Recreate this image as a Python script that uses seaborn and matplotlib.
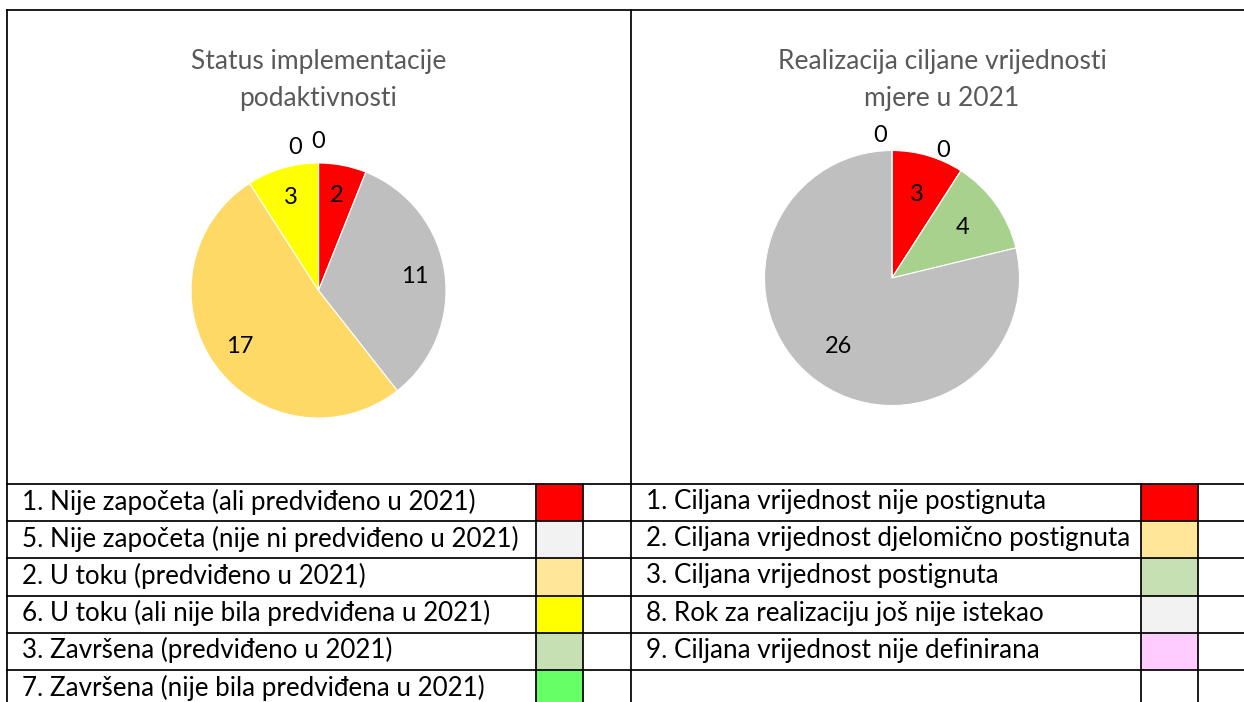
import matplotlib
matplotlib.use("Agg")
import numpy as np
import matplotlib.pyplot as plt
from matplotlib.patches import Rectangle
import seaborn as sns

# --- data ---
status_title = "Status implementacije\npodaktivnosti"
status_labels = ["1. Nije započeta (ali predviđeno u 2021)",
                 "5. Nije započeta (nije ni predviđeno u 2021)",
                 "2. U toku (predviđeno u 2021)",
                 "6. U toku (ali nije bila predviđena u 2021)",
                 "3. Završena (predviđeno u 2021)",
                 "7. Završena (nije bila predviđena u 2021)"]
status_values = [2, 11, 17, 3, 0, 0]
status_slice_colors = ["#FF0000", "#BFBFBF", "#FFD966", "#FFFF00", "#C6E0B4", "#66FF66"]
status_swatch_colors = ["#FF0000", "#F2F2F2", "#FFE699", "#FFFF00", "#C6E0B4", "#66FF66"]

target_title = "Realizacija ciljane vrijednosti\nmjere u 2021"
target_labels = ["1. Ciljana vrijednost nije postignuta",
                 "2. Ciljana vrijednost djelomično postignuta",
                 "3. Ciljana vrijednost postignuta",
                 "8. Rok za realizaciju još nije istekao",
                 "9. Ciljana vrijednost nije definirana"]
target_values = [3, 0, 4, 26, 0]
target_slice_colors = ["#FF0000", "#FFD966", "#A9D18E", "#BFBFBF", "#FFCCFF"]
target_swatch_colors = ["#FF0000", "#FFE699", "#C6E0B4", "#F2F2F2", "#FFCCFF"]

sns.set_theme(style="white")
plt.rcParams['font.family'] = ['Lato', 'DejaVu Sans']

W, H = 1244, 702
fig = plt.figure(figsize=(W / 100, H / 100), dpi=100)

# overlay axes in pixel coordinates for the frame and the legend table
grid = fig.add_axes([0, 0, 1, 1])
grid.set_xlim(0, W)
grid.set_ylim(H, 0)
grid.axis("off")

lw = 1.25
left, mid, top = 7, 631, 10
table_top, row_h = 484, 37.2
cols_left = (536, 583)
cols_right = (1141, 1198)


def draw_pie(cx, cy, r, values, colors, title, title_x, label_dist):
    size = 2.6 * r
    ax = fig.add_axes([(cx - size / 2) / W, (H - cy - size / 2) / H, size / W, size / H])
    wedges, _ = ax.pie(values, colors=colors, startangle=90, counterclock=False,
                       wedgeprops=dict(edgecolor="white", linewidth=0.8))
    ax.set_xlim(-1.3, 1.3)
    ax.set_ylim(-1.3, 1.3)
    ax.set_aspect("equal")
    top_zeros = [w for w, v in zip(wedges, values) if v == 0 and np.isclose(w.theta1 % 360, 90)]
    n_top = len(top_zeros)
    for w, v in zip(wedges, values):
        if v > 0:
            ang = np.deg2rad((w.theta1 + w.theta2) / 2)
            ax.text(label_dist * np.cos(ang), label_dist * np.sin(ang), str(v),
                    ha="center", va="center", fontsize=17, color="black")
        elif w in top_zeros:
            k = top_zeros.index(w)
            x = -0.09 + 0.18 * (k - (n_top - 1) / 2)
            y = 1.12 + 0.05 * k
            ax.text(x, y, "0", ha="center", va="center", fontsize=17, color="black")
        else:
            ang = np.deg2rad(w.theta1 + 11)
            ax.text(1.08 * np.cos(ang), 1.08 * np.sin(ang), "0",
                    ha="center", va="center", fontsize=17, color="black")
    grid.text(title_x, 80, title, ha="center", va="center", fontsize=19,
              color="#595959", linespacing=1.6)


draw_pie(318.5, 290.5, 127.5, status_values, status_slice_colors, status_title, 318.5, 0.76)
draw_pie(892, 278, 127.5, target_values, target_slice_colors, target_title, 942, 0.68)


def draw_table(x0, x_text, labels, swatches, cols, n_rows, x1):
    for i in range(n_rows):
        y0 = table_top + i * row_h
        if i < len(labels):
            grid.add_patch(Rectangle((cols[0], y0), cols[1] - cols[0], row_h,
                                     facecolor=swatches[i], edgecolor="none", zorder=1))
            grid.text(x_text, y0 + row_h / 2 - 1, labels[i], ha="left", va="center",
                      fontsize=18.7, color="black", zorder=3)
    for i in range(n_rows + 1):
        y = table_top + i * row_h
        if y < H:
            grid.plot([x0, x1], [y, y], color="black", lw=lw, zorder=2,
                      solid_capstyle="projecting")
    for c in cols:
        grid.plot([c, c], [table_top, H], color="black", lw=lw, zorder=2)


draw_table(left, 22, status_labels, status_swatch_colors, cols_left, 6, mid)
draw_table(mid, 646, target_labels, target_swatch_colors, cols_right, 6, W)

# outer frame
grid.plot([left, W], [top, top], color="black", lw=lw, solid_capstyle="projecting")
grid.plot([left, left], [top, H], color="black", lw=lw, solid_capstyle="projecting")
grid.plot([mid, mid], [top, H], color="black", lw=lw)

fig.savefig("out.png", dpi=100)
